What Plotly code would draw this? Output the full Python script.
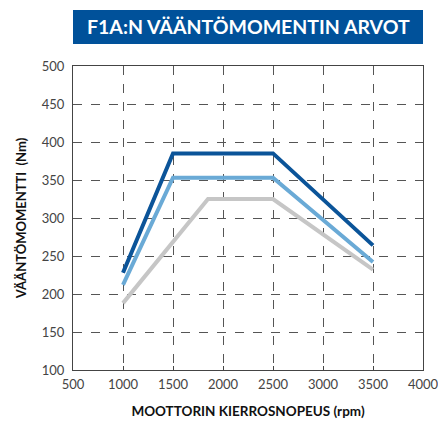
import plotly.graph_objects as go

title_text = "F1A:N VÄÄNTÖMOMENTIN ARVOT"
x_title = "MOOTTORIN KIERROSNOPEUS (rpm)"
y_title = "VÄÄNTÖMOMENTTI  (Nm)"

rpm_dark = [1000, 1500, 2500, 3500]
nm_dark = [228, 385, 385, 264]
rpm_light = [1000, 1500, 2500, 3500]
nm_light = [212, 353, 353, 242]
rpm_gray = [1000, 1850, 2500, 3500]
nm_gray = [188, 325, 325, 232]

x_ticks = [500, 1000, 1500, 2000, 2500, 3000, 3500, 4000]
y_ticks = [100, 150, 200, 250, 300, 350, 400, 450, 500]

series = [
    (rpm_gray, nm_gray, "#C6C6C6"),
    (rpm_light, nm_light, "#6AAAD6"),
    (rpm_dark, nm_dark, "#0B5499"),
]

fig = go.Figure()
for xs, ys, col in series:
    fig.add_trace(go.Scatter(x=xs, y=ys, mode="lines",
                             line=dict(color=col, width=4, shape="linear"),
                             showlegend=False, hoverinfo="skip"))

font_family = "Lato, Open Sans, sans-serif"

fig.update_layout(
    width=438, height=421,
    margin=dict(l=73, r=15, t=66, b=51),
    plot_bgcolor="white", paper_bgcolor="white",
    font=dict(family=font_family, color="#333333", size=13),
    xaxis=dict(range=[500, 4000], tickvals=x_ticks, ticktext=[str(v) for v in x_ticks],
               automargin=False, ticklabeloverflow="allow", ticklabelstandoff=2,
               showgrid=True, gridcolor="#555555", griddash="dash", gridwidth=1.2,
               showline=True, linecolor="#444444", linewidth=1, mirror=True,
               ticks="inside", ticklen=4, tickcolor="#444444",
               zeroline=False, tickfont=dict(size=13, color="#444444"),
               title=dict(text="<b>" + x_title + "</b>", font=dict(size=13.5, color="#111111"), standoff=15)),
    yaxis=dict(range=[100, 500], tickvals=y_ticks, ticktext=[str(v) for v in y_ticks],
               automargin=False, ticklabelstandoff=5, ticklabeloverflow="allow",
               showgrid=True, gridcolor="#555555", griddash="dash", gridwidth=1.2,
               showline=True, linecolor="#444444", linewidth=1, mirror=True,
               ticks="", zeroline=False, tickfont=dict(size=13, color="#444444"),
               title=dict(text="<b>" + y_title + "</b>", font=dict(size=13, color="#111111"), standoff=12)),
)

fig.add_shape(type="rect", xref="paper", yref="paper",
              x0=0, x1=1, y0=1 + 22 / 304, y1=1 + 56 / 304,
              fillcolor="#00519A", line=dict(width=0), layer="above")
fig.add_annotation(xref="paper", yref="paper", x=0.5, y=1 + 39 / 304,
                   text="<b>" + title_text + "</b>", showarrow=False,
                   font=dict(size=19.5, color="white", family=font_family),
                   xanchor="center", yanchor="middle")

fig.write_html("out.html", config={"displayModeBar": False},
               post_script="document.body.style.margin='0';")
